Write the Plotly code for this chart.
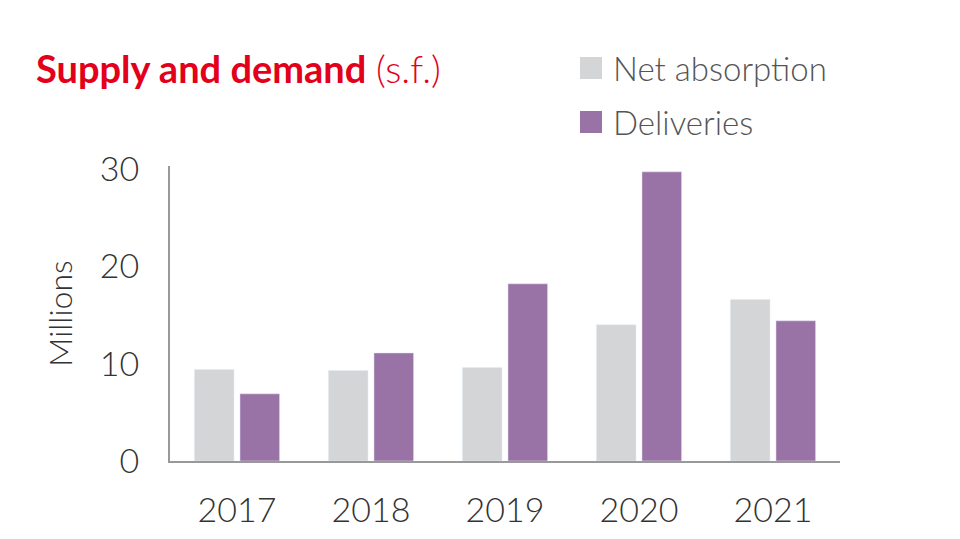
import plotly.graph_objects as go

years = ["2017", "2018", "2019", "2020", "2021"]
net_absorption = [9.4, 9.3, 9.6, 14.0, 16.6]
deliveries = [6.9, 11.1, 18.2, 29.7, 14.4]
y_ticks = [0, 10, 20, 30]
series_names = ["Net absorption", "Deliveries"]
series_colors = ["#d4d5d6", "#9972a6"]

L, R, T, B = 162, 128, 158, 86
W, H = 960, 539
pw, ph = W - L - R, H - T - B

def px_x(x):
    return (x - L) / pw

def px_y(y):
    return (H - y - B) / ph

fig = go.Figure()
fig.add_trace(go.Bar(x=years, y=net_absorption, name=series_names[0], marker_color=series_colors[0]))
fig.add_trace(go.Bar(x=years, y=deliveries, name=series_names[1], marker_color=series_colors[1]))

shapes, annotations = [], []
for i, (name, col) in enumerate(zip(series_names, series_colors)):
    cy = 60 + 54 * i
    shapes.append(dict(type="rect", xref="paper", yref="paper", x0=px_x(572), x1=px_x(594),
                       y0=px_y(cy + 11), y1=px_y(cy - 11), fillcolor=col, line=dict(width=0)))
    annotations.append(dict(text=name, x=px_x(603), y=px_y(cy), xref="paper", yref="paper",
                            xanchor="left", yanchor="middle", showarrow=False,
                            font=dict(size=33, color="#555555", family="Lato", weight=300)))
annotations.append(dict(
    text="<b>Supply and demand</b> <span style='font-weight:300'>(s.f.)</span>",
    x=px_x(26), y=px_y(60), xref="paper", yref="paper", xanchor="left", yanchor="middle",
    showarrow=False, font=dict(size=38, color="#e2001a", family="Lato")))

fig.update_layout(
    width=W, height=H,
    paper_bgcolor="white", plot_bgcolor="white",
    margin=dict(l=L, r=R, t=T, b=B, autoexpand=False),
    barmode="group", bargap=0.32, bargroupgap=0.13,
    font=dict(family="Lato", color="#333333"),
    showlegend=False, shapes=shapes, annotations=annotations,
)
fig.update_xaxes(showline=True, linecolor="#999999", linewidth=2, ticks="", tickangle=0,
                 automargin=False,
                 tickfont=dict(size=34, color="#333333", weight=300), ticklabelstandoff=18)
fig.update_yaxes(range=[0, 30.3], tickvals=y_ticks, showgrid=False, showline=True, automargin=False,
                 linecolor="#999999", linewidth=2, ticks="", zeroline=False,
                 tickfont=dict(size=34, color="#333333", weight=300), ticklabelstandoff=22,
                 title=dict(text="Millions", font=dict(size=32, color="#333333", weight=300), standoff=18))
fig.write_html("out.html")
